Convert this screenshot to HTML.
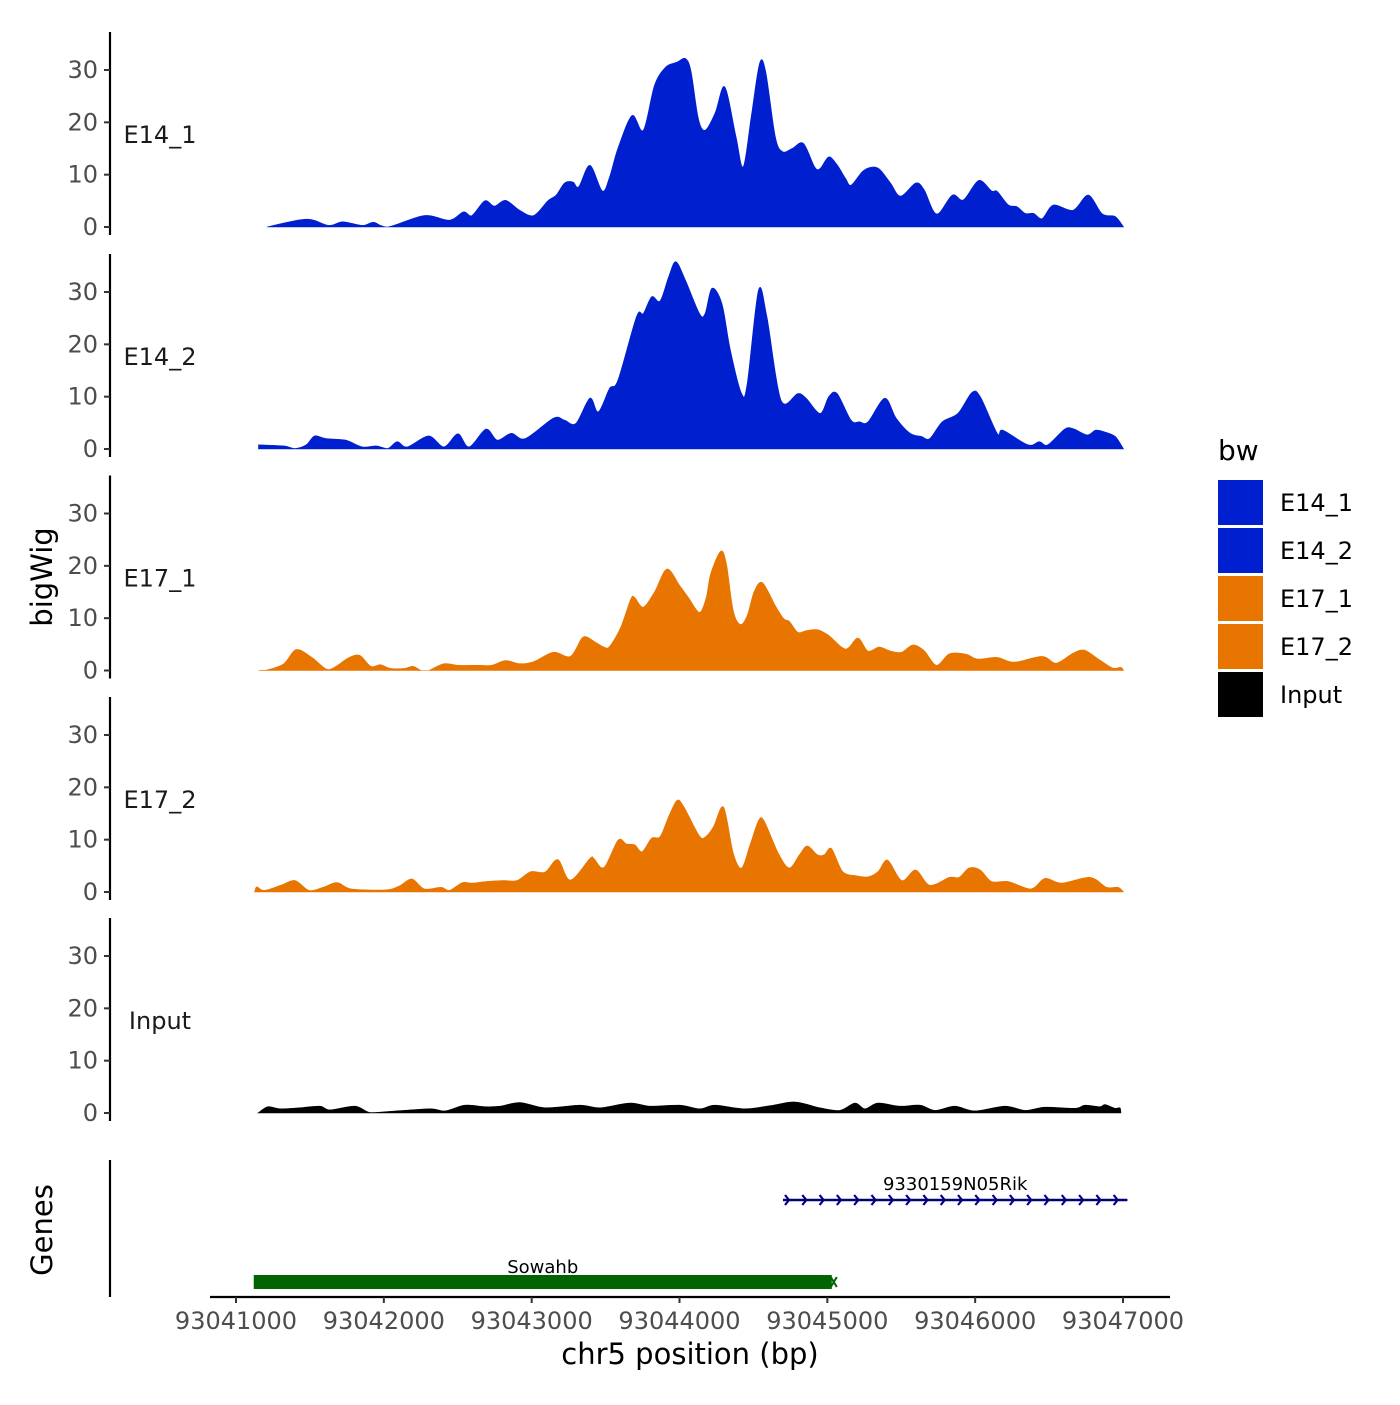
<!DOCTYPE html>
<html><head><meta charset="utf-8"><style>
body{margin:0;background:#fff}
svg{font-family:"DejaVu Sans","Liberation Sans",sans-serif}
</style></head><body>
<svg id="chart" width="1400" height="1400" viewBox="0 0 1400 1400" xmlns="http://www.w3.org/2000/svg">
<rect width="1400" height="1400" fill="#fff"/>
<g id="tracks"></g>
<g id="genes"></g>
<g id="axes"></g>
<text transform="translate(52,577) rotate(-90)" text-anchor="middle" font-size="29" fill="#000">bigWig</text>
<text transform="translate(52,1230) rotate(-90)" text-anchor="middle" font-size="29" fill="#000">Genes</text>
<text x="690" y="1364" text-anchor="middle" font-size="29" fill="#000">chr5 position (bp)</text>
<g id="legend"></g>
</svg>
<script>
const START = 93041000;
const trackNames = ["E14_1","E14_2","E17_1","E17_2","Input"];
const trackColors = ["#0020CF","#0020CF","#E87500","#E87500","#000000"];
const e14_1_pos = [209,475,627,722,855,931,1026,1273,1444,1539,1596,1683,1748,1824,1919,2014,2109,2166,2223,2280,2318,2394,2478,2527,2584,2679,2755,2831,2907,2983,3040,3078,3127,3173,3241,3306,3382,3431,3485,3542,3583,3648,3697,3762,3838,3914,3952,4009,4066,4123,4161,4237,4294,4351,4427,4495,4598,4655,4739,4845,4921,5024,5111,5149,5225,5282,5339,5396,5453,5529,5662,5765,5860,5947,6004];
const e14_1_val = [0,1.5,0.3,1.0,0.3,0.9,0,2.2,1.3,2.9,2.2,5.0,4.0,5.1,3.2,2.2,5.0,6.1,8.4,8.6,7.7,11.8,6.9,9.6,15.1,21.3,18.5,27.1,30.6,31.5,32.2,29.8,20.8,18.5,21.8,26.8,17.3,11.5,21.1,31.3,29.7,17.3,14.4,15,16,11.5,11.2,13.4,11.9,9.3,8.0,10.6,11.4,11.1,8.4,5.9,8.4,7.1,2.5,6.1,5.2,8.9,6.9,6.8,4.2,3.9,2.6,2.6,1.6,4.2,3.2,6.1,2.5,2.0,0];
const e14_2_pos = [152,323,399,475,532,608,741,855,950,1026,1091,1159,1303,1406,1501,1577,1691,1767,1862,1957,2147,2223,2299,2394,2451,2527,2584,2709,2755,2812,2869,2926,2975,3040,3135,3173,3219,3287,3344,3420,3458,3534,3591,3686,3800,3857,3952,4009,4066,4161,4218,4275,4389,4465,4560,4636,4693,4777,4883,4978,5035,5149,5187,5358,5434,5491,5605,5662,5757,5814,5871,5947,6004];
const e14_2_val = [0.8,0.6,0.1,0.8,2.5,2.0,1.7,0.4,0.6,0.1,1.4,0.4,2.5,0.4,2.9,0.4,3.8,1.7,3.0,2.0,5.9,5.5,4.9,9.7,7.1,11.6,13.2,25.3,25.9,29.1,28.3,32.9,35.8,32.3,25.9,25.9,30.7,27.8,18.9,10.6,12.5,30.3,25.3,9.4,10.6,9.7,6.8,10.0,10.6,5.5,5.2,5.2,9.7,5.9,3.0,2.4,2.0,5.2,6.8,10.8,10.0,3.0,3.6,0.8,1.4,0.8,3.8,3.9,2.7,3.6,3.3,2.4,0];
const e17_1_pos = [152,209,323,407,513,608,665,760,836,912,977,1045,1140,1197,1254,1303,1406,1501,1634,1729,1824,1919,2014,2147,2261,2337,2375,2432,2489,2527,2603,2671,2698,2755,2831,2915,3002,3059,3135,3181,3211,3279,3317,3363,3412,3458,3504,3561,3648,3705,3743,3800,3857,3933,4009,4123,4207,4275,4351,4427,4503,4579,4655,4739,4826,4940,5016,5149,5263,5453,5548,5662,5738,5833,5928,5985,6004];
const e17_1_val = [0,0.1,1.3,4.0,2.5,0.3,0.6,2.4,2.9,0.8,1.1,0.4,0.4,0.8,0,0,1.3,1.0,1.0,1.0,1.9,1.3,1.7,3.5,2.7,6.1,6.4,5.4,4.5,4.6,8.3,13.7,13.9,12.1,15.0,19.4,16.2,14.0,11.1,14.0,18.5,22.8,20.4,11.5,8.8,10.5,15.0,16.8,12.4,9.9,9.4,7.3,7.6,7.8,6.7,4.1,6.2,3.7,4.5,3.7,3.5,4.9,3.8,1.0,3.2,3.1,2.2,2.5,1.6,2.7,1.4,3.3,3.9,2.2,0.5,0.6,0];
const e17_2_pos = [125,141,190,304,399,494,589,684,779,1007,1102,1189,1273,1387,1444,1531,1596,1691,1805,1900,1995,2090,2177,2261,2394,2421,2489,2584,2641,2698,2747,2812,2869,2926,2983,3029,3135,3181,3230,3298,3363,3420,3477,3534,3572,3667,3743,3811,3865,3933,3979,4028,4104,4199,4275,4343,4408,4503,4598,4693,4826,4891,4959,5035,5111,5225,5377,5472,5586,5776,5890,5966,6004];
const e17_2_val = [0,1.0,0.3,1.3,2.2,0.3,0.9,1.8,0.6,0.4,1.1,2.5,0.6,0.9,0.3,1.8,1.7,2.0,2.2,2.2,3.9,3.8,6.2,2.3,6.4,6.4,4.7,9.9,9.2,9.0,7.7,10.3,10.6,14.4,17.5,16.3,10.7,10.7,12.5,16.2,7.5,4.6,9.0,13.6,13.6,7.5,4.6,7.1,8.8,7.1,7.1,8.3,3.9,3.1,2.9,3.9,6.1,2.2,4.2,1.3,2.8,2.8,4.6,4.2,2.0,2.0,0.6,2.6,1.7,2.8,0.9,0.9,0];
const input_pos = [149,216,298,433,568,636,805,906,1042,1312,1414,1549,1684,1786,1921,2090,2327,2462,2665,2800,3003,3138,3240,3443,3612,3781,3950,4085,4187,4255,4342,4491,4627,4728,4863,4998,5201,5337,5472,5675,5743,5844,5878,5945,5979,5986];
const input_val = [0,1.2,0.8,1.0,1.3,0.6,1.3,0.1,0.3,0.8,0.4,1.5,1.2,1.3,2.0,1.0,1.5,1.0,1.9,1.3,1.5,0.8,1.5,0.8,1.4,2.1,1.0,0.5,1.9,0.8,1.9,1.3,1.5,0.5,1.3,0.4,1.3,0.5,1.1,0.9,1.5,1.2,1.6,0.9,1.0,0];
const yTicks = [0,10,20,30];
const xTicks = [93041000,93042000,93043000,93044000,93045000,93046000,93047000];
const xTickLabels = ["93041000","93042000","93043000","93044000","93045000","93046000","93047000"];
const geneNames = ["9330159N05Rik","Sowahb"];
const geneStart = [93044700,93041120];
const geneEnd = [93047030,93045030];

const NS='http://www.w3.org/2000/svg';
function mk(t,a,p){const e=document.createElementNS(NS,t);for(const k in a)e.setAttribute(k,a[k]);p.appendChild(e);return e;}
function xS(bp){return 236+(bp-93041000)*(887/6000);}
const zeroY=[227,449,670.5,892,1113];
function yS(i,v){return zeroY[i]-v*5.233;}
const allPos=[e14_1_pos,e14_2_pos,e17_1_pos,e17_2_pos,input_pos];
const allVal=[e14_1_val,e14_2_val,e17_1_val,e17_2_val,input_val];
const tracks=document.getElementById('tracks');
const axes=document.getElementById('axes');
for(let i=0;i<5;i++){
  const pos=allPos[i],val=allVal[i];
  const px=pos.map(p=>xS(START+p)), py=val.map(v=>yS(i,v));
  let d='M'+px[0].toFixed(1)+','+zeroY[i]+' L'+px[0].toFixed(1)+','+py[0].toFixed(1);
  for(let j=0;j<px.length-1;j++){
    const x0=px[Math.max(j-1,0)],y0=py[Math.max(j-1,0)],x1=px[j],y1=py[j],x2=px[j+1],y2=py[j+1],x3=px[Math.min(j+2,px.length-1)],y3=py[Math.min(j+2,px.length-1)];
    const t=0.16;
    let c1y=y1+(y2-y0)*t, c2y=y2-(y3-y1)*t;
    c1y=Math.min(c1y,zeroY[i]); c2y=Math.min(c2y,zeroY[i]);
    d+=' C'+(x1+(x2-x0)*t).toFixed(1)+','+c1y.toFixed(1)+' '+(x2-(x3-x1)*t).toFixed(1)+','+c2y.toFixed(1)+' '+x2.toFixed(1)+','+y2.toFixed(1);
  }
  d+=' L'+px[px.length-1].toFixed(1)+','+zeroY[i]+' Z';
  const p=mk('path',{d:d,fill:trackColors[i],stroke:trackColors[i],'stroke-width':0.6},tracks);
  
  
  const lab=mk('text',{x:160,y:zeroY[i]-84,'text-anchor':'middle','font-size':24,fill:'#1a1a1a'},tracks);
  lab.textContent=trackNames[i];
  
  
  const top=zeroY[i]-195, bot=zeroY[i]+8;
  const ax=mk('line',{x1:110,x2:110,y1:top,y2:bot,stroke:'#000','stroke-width':2.2},axes);
  
  
  for(const t of yTicks){
    const y=yS(i,t);
    mk('line',{x1:104,x2:110,y1:y,y2:y,stroke:'#333','stroke-width':2},axes);
    const tl=mk('text',{x:98,y:y+8,'text-anchor':'end','font-size':24,fill:'#4d4d4d'},axes);
    tl.textContent=t;
    
    
  }
}
mk('line',{x1:110,x2:110,y1:1160,y2:1297,stroke:'#000','stroke-width':2.2},axes);
const xl=mk('line',{x1:210,x2:1170,y1:1297,y2:1297,stroke:'#000','stroke-width':2.2},axes);


for(let k=0;k<xTicks.length;k++){
  const x=xS(xTicks[k]);
  mk('line',{x1:x,x2:x,y1:1297,y2:1303,stroke:'#333','stroke-width':2},axes);
  const t=mk('text',{x:x,y:1329,'text-anchor':'middle','font-size':24,fill:'#4d4d4d'},axes);
  t.textContent=xTickLabels[k];
  
  
}
const genes=document.getElementById('genes');
{const x1=xS(geneStart[0]),x2=xS(geneEnd[0]),y=1200;
 mk('line',{x1:x1,x2:x2,y1:y,y2:y,stroke:'#000080','stroke-width':2.5},genes);
 let s='';for(let x=x1+6;x<=x2;x+=17.3)s+='M'+(x-4)+','+(y-5)+' L'+x+','+y+' L'+(x-4)+','+(y+5)+' ';
 mk('path',{d:s,fill:'none',stroke:'#000080','stroke-width':2.2},genes);
 const t=mk('text',{x:(x1+x2)/2,y:1190,'text-anchor':'middle','font-size':18,fill:'#000'},genes);
 t.textContent=geneNames[0];
 
 }
{const x1=xS(geneStart[1]),x2=xS(geneEnd[1]),y=1282;
 const r=mk('rect',{x:x1,y:y-7,width:x2-x1,height:14,fill:'#006400'},genes);
 
 
 mk('path',{d:'M'+(x2-1)+','+(y-5)+' L'+(x2+5)+','+(y+5)+' M'+(x2+5)+','+(y-5)+' L'+(x2-1)+','+(y+5),stroke:'#006400','stroke-width':2},genes);
 const t=mk('text',{x:(x1+x2)/2,y:1273,'text-anchor':'middle','font-size':18,fill:'#000'},genes);
 t.textContent=geneNames[1];
 
 }
const leg=document.getElementById('legend');
const lt=mk('text',{x:1218,y:460,'font-size':28,fill:'#000'},leg);
lt.textContent='bw';


for(let i=0;i<5;i++){
  const y=480+i*48;
  const r=mk('rect',{x:1218,y:y,width:45,height:45,fill:trackColors[i]},leg);
  
  
  const t=mk('text',{x:1280,y:y+31,'font-size':24,fill:'#000'},leg);
  t.textContent=trackNames[i];
  
  
}
</script>
</body></html>
